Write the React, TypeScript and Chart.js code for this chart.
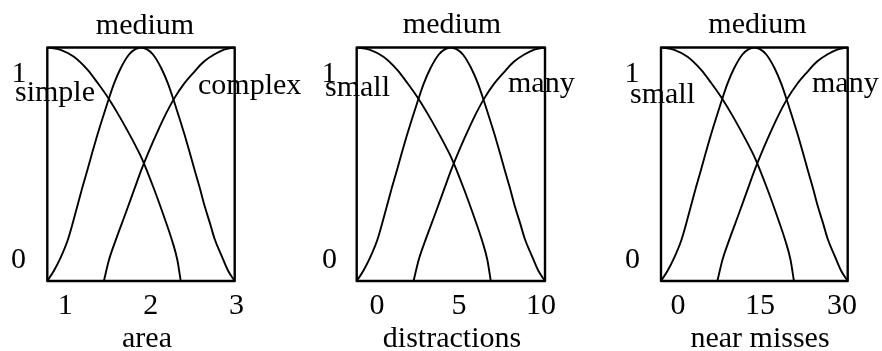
import React, { useEffect, useRef } from 'react';
import { Chart, registerables } from 'chart.js';

Chart.register(...registerables);
Chart.defaults.font.family = '"Liberation Serif", "Times New Roman", serif';

// Membership grades.
// Position = fraction of each universe (0 = left edge of the box, 1 = right edge).
const lowPos = [0, 0.071, 0.142, 0.214, 0.267, 0.32, 0.374, 0.427, 0.48, 0.507, 0.569, 0.623, 0.667, 0.694, 0.712];
const lowGrade = [1, 0.99, 0.96, 0.905, 0.85, 0.79, 0.72, 0.645, 0.565, 0.52, 0.395, 0.275, 0.17, 0.09, 0];

const midPos = [0, 0.036, 0.071, 0.107, 0.133, 0.16, 0.187, 0.214, 0.24, 0.267, 0.294, 0.32, 0.356, 0.391, 0.436, 0.47, 0.5,
  0.53, 0.564, 0.609, 0.644, 0.68, 0.706, 0.733, 0.76, 0.786, 0.813, 0.84, 0.867, 0.893, 0.929, 0.964, 1];
const midGrade = [0, 0.045, 0.1, 0.17, 0.24, 0.32, 0.4, 0.475, 0.55, 0.625, 0.695, 0.76, 0.845, 0.91, 0.97, 0.993, 1,
  0.993, 0.97, 0.91, 0.845, 0.76, 0.695, 0.625, 0.55, 0.475, 0.4, 0.32, 0.25, 0.18, 0.11, 0.045, 0];

const highPos = [0.302, 0.329, 0.365, 0.418, 0.463, 0.504, 0.569, 0.623, 0.676, 0.73, 0.783, 0.836, 0.89, 0.943, 1];
const highGrade = [0, 0.09, 0.175, 0.29, 0.39, 0.48, 0.605, 0.7, 0.78, 0.845, 0.895, 0.94, 0.97, 0.991, 1];

// Variables, universes and axis ticks
const variables = ['area', 'distractions', 'near misses'];
const universeMin = [0.79, -1.24, -3.1];
const universeMax = [2.98, 10.24, 31.04];
const axisTicks = [[1, 2, 3], [0, 5, 10], [0, 15, 30]];
const lowTerms = ['simple', 'small', 'small'];
const midTerms = ['medium', 'medium', 'medium'];
const highTerms = ['complex', 'many', 'many'];
const gradeLabels = ['0', '1'];

// Layout (page pixels)
const H = 351;
const BOX_TOP = 47.5;
const BOX_BOTTOM = 281;
const FAMILY = '"Liberation Serif", "Times New Roman", serif';
const FONT = '30px ' + FAMILY;

type Pt = [number, number];
interface PanelLayout {
  left: number; width: number; boxLeft: number; boxRight: number;
  mid: Pt; low: Pt; high: Pt; one: Pt; zero: Pt; title: Pt;
}

const PANELS: PanelLayout[] = [
  { left: 0, width: 305, boxLeft: 47.3, boxRight: 234.7,
    mid: [145, 34], low: [15, 101], high: [198, 93.5], one: [19, 82], zero: [18.5, 268], title: [147, 347] },
  { left: 305, width: 295, boxLeft: 356.7, boxRight: 545,
    mid: [452, 33], low: [325, 96], high: [508, 91.5], one: [329, 82], zero: [329.5, 268], title: [452, 347] },
  { left: 600, width: 282, boxLeft: 661, boxRight: 847.7,
    mid: [757.5, 33], low: [630, 103], high: [812, 91.5], one: [632, 82], zero: [632.5, 268], title: [760, 347] },
];

function Panel({ i }: { i: number }) {
  const ref = useRef<HTMLCanvasElement>(null);
  const p = PANELS[i];

  useEffect(() => {
    const lo = universeMin[i];
    const hi = universeMax[i];
    const toX = (u: number) => lo + u * (hi - lo);
    const series = (pos: number[], g: number[]) => pos.map((u, k) => ({ x: toX(u), y: g[k] }));
    const ds = (data: { x: number; y: number }[]) => ({
      data,
      borderColor: '#000',
      borderWidth: 1.9,
      pointRadius: 0,
      fill: false,
      cubicInterpolationMode: 'monotone' as const,
    });

    const labels = [
      { text: midTerms[i], x: p.mid[0], y: p.mid[1], align: 'center' },
      { text: lowTerms[i], x: p.low[0], y: p.low[1], align: 'left' },
      { text: highTerms[i], x: p.high[0], y: p.high[1], align: 'left' },
      { text: gradeLabels[1], x: p.one[0], y: p.one[1], align: 'center' },
      { text: gradeLabels[0], x: p.zero[0], y: p.zero[1], align: 'center' },
      { text: variables[i], x: p.title[0], y: p.title[1], align: 'center' },
    ];

    const decor = {
      id: 'panelDecor',
      afterDatasetsDraw(chart: any) {
        const { ctx, chartArea: a } = chart;
        ctx.save();
        ctx.font = FONT;
        ctx.textBaseline = 'alphabetic';
        ctx.strokeStyle = '#fff';
        ctx.lineWidth = 4;
        ctx.lineJoin = 'round';
        for (const l of labels) {
          ctx.textAlign = l.align;
          ctx.strokeText(l.text, l.x - p.left, l.y);
        }
        ctx.strokeStyle = '#000';
        ctx.lineWidth = 2.4;
        ctx.strokeRect(a.left, a.top, a.right - a.left, a.bottom - a.top);
        ctx.fillStyle = '#000';
        for (const l of labels) {
          ctx.textAlign = l.align;
          ctx.fillText(l.text, l.x - p.left, l.y);
        }
        ctx.restore();
      },
    };

    const chart = new Chart(ref.current!, {
      type: 'line',
      data: {
        datasets: [
          ds(series(lowPos, lowGrade)),
          ds(series(midPos, midGrade)),
          ds(series(highPos, highGrade)),
        ],
      },
      options: {
        animation: false,
        responsive: false,
        events: [],
        layout: {
          padding: { left: p.boxLeft - p.left, right: p.left + p.width - p.boxRight, top: BOX_TOP, bottom: 0 },
        },
        plugins: { legend: { display: false }, tooltip: { enabled: false } },
        scales: {
          x: {
            type: 'linear',
            min: lo,
            max: hi,
            grid: { display: false },
            border: { display: false },
            afterBuildTicks: (s: any) => { s.ticks = axisTicks[i].map((v) => ({ value: v })); },
            afterFit: (s: any) => { s.height = H - BOX_BOTTOM; },
            ticks: {
              color: '#000',
              padding: 2,
              maxRotation: 0,
              autoSkip: false,
              font: { family: FAMILY, size: 30, lineHeight: 1 },
            },
          },
          y: { display: false, min: 0, max: 1 },
        },
      },
      plugins: [decor],
    } as any);
    return () => chart.destroy();
  }, [i]);

  return (
    <canvas
      ref={ref}
      width={p.width}
      height={H}
      style={{ position: 'absolute', left: p.left, top: 0, width: p.width, height: H }}
    />
  );
}

export default function App() {
  return (
    <div style={{ position: 'absolute', left: 0, top: 0, width: 882, height: H, background: '#fff' }}>
      {PANELS.map((_, i) => <Panel key={i} i={i} />)}
    </div>
  );
}
